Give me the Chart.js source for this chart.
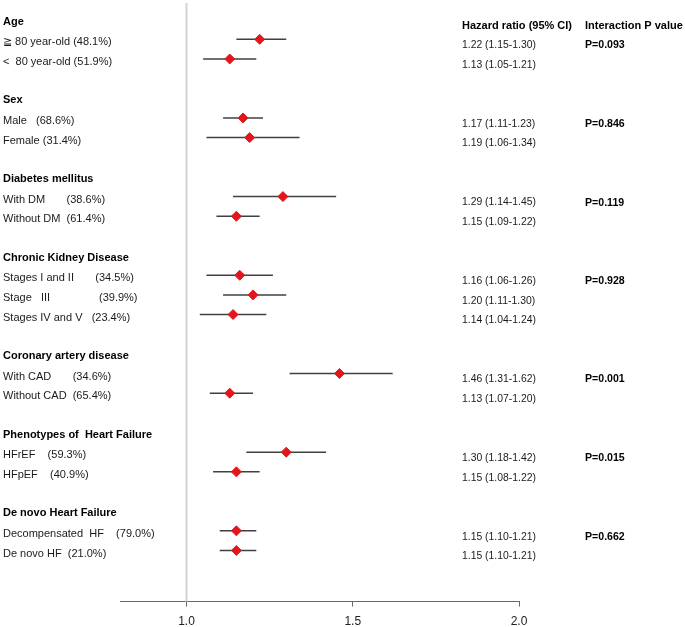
<!DOCTYPE html>
<html>
<head>
<meta charset="utf-8">
<script src="https://cdn.jsdelivr.net/npm/chart.js@4.4.1/dist/chart.umd.min.js"></script>
<style>
  html, body { margin: 0; padding: 0; background: #fff; }
  #forest { display: block; }
</style>
</head>
<body>
<canvas id="forest" width="685" height="627"></canvas>
<script>
const groupTitles = ['Age', 'Sex', 'Diabetes mellitus', 'Chronic Kidney Disease',
    'Coronary artery disease', 'Phenotypes of  Heart Failure', 'De novo Heart Failure'];
const groupSizes = [2, 2, 2, 3, 2, 2, 2];
const interactionP = ['P=0.093', 'P=0.846', 'P=0.119', 'P=0.928', 'P=0.001', 'P=0.015', 'P=0.662'];

const subgroupLabels = [
    '\u2267 80 year-old (48.1%)', '<  80 year-old (51.9%)',
    'Male   (68.6%)', 'Female (31.4%)',
    'With DM       (38.6%)', 'Without DM  (61.4%)',
    'Stages I and II       (34.5%)', 'Stage   III                (39.9%)', 'Stages IV and V   (23.4%)',
    'With CAD       (34.6%)', 'Without CAD  (65.4%)',
    'HFrEF    (59.3%)', 'HFpEF    (40.9%)',
    'Decompensated  HF    (79.0%)', 'De novo HF  (21.0%)'
];
const hazardRatio = [1.22, 1.13, 1.17, 1.19, 1.29, 1.15, 1.16, 1.20, 1.14, 1.46, 1.13, 1.30, 1.15, 1.15, 1.15];
const ciLower     = [1.15, 1.05, 1.11, 1.06, 1.14, 1.09, 1.06, 1.11, 1.04, 1.31, 1.07, 1.18, 1.08, 1.10, 1.10];
const ciUpper     = [1.30, 1.21, 1.23, 1.34, 1.45, 1.22, 1.26, 1.30, 1.24, 1.62, 1.20, 1.42, 1.22, 1.21, 1.21];
const xTicks = [1.0, 1.5, 2.0];

const FONT = '"Liberation Sans", Arial, sans-serif';

// row index of every title / subgroup: title, its rows, then one blank line
const titleRows = [];
const itemRows = [];
let row = 0;
groupSizes.forEach((n) => {
    titleRows.push(row);
    row++;
    for (let i = 0; i < n; i++) {
        itemRows.push(row);
        row++;
    }
    row++;
});

const points = hazardRatio.map((v, i) => ({ x: v, y: itemRows[i] }));

const forestPlugin = {
    id: 'forest',
    beforeDatasetsDraw(chart) {
        const { ctx, chartArea, scales: { x, y } } = chart;
        ctx.save();
        // reference line at HR = 1
        const x1 = x.getPixelForValue(1.0);
        ctx.strokeStyle = '#d2d2d2';
        ctx.lineWidth = 2;
        ctx.beginPath();
        ctx.moveTo(x1, chartArea.top + 3);
        ctx.lineTo(x1, chartArea.bottom);
        ctx.stroke();
        // confidence intervals
        ctx.strokeStyle = '#404040';
        ctx.lineWidth = 1.5;
        hazardRatio.forEach((v, i) => {
            const py = y.getPixelForValue(itemRows[i]);
            ctx.beginPath();
            ctx.moveTo(x.getPixelForValue(ciLower[i]), py);
            ctx.lineTo(x.getPixelForValue(ciUpper[i]), py);
            ctx.stroke();
        });
        ctx.restore();
    },
    afterDatasetsDraw(chart) {
        const { ctx, scales: { y } } = chart;
        ctx.save();
        ctx.textBaseline = 'middle';
        ctx.textAlign = 'left';
        // left column
        ctx.fillStyle = '#000';
        ctx.font = 'bold 11px ' + FONT;
        groupTitles.forEach((t, g) => ctx.fillText(t, 3, y.getPixelForValue(titleRows[g]) + 2));
        ctx.fillStyle = '#1a1a1a';
        ctx.font = '11px ' + FONT;
        subgroupLabels.forEach((t, i) => ctx.fillText(t, 3, y.getPixelForValue(itemRows[i]) + 3));
        // headers
        ctx.fillStyle = '#000';
        ctx.font = 'bold 11px ' + FONT;
        ctx.fillText('Hazard ratio (95% CI)', 462, y.getPixelForValue(0) + 6);
        ctx.fillText('Interaction P value', 585, y.getPixelForValue(0) + 6);
        // hazard ratio column
        ctx.fillStyle = '#1a1a1a';
        ctx.font = '10.4px ' + FONT;
        hazardRatio.forEach((v, i) => {
            const txt = v.toFixed(2) + ' (' + ciLower[i].toFixed(2) + '-' + ciUpper[i].toFixed(2) + ')';
            ctx.fillText(txt, 462, y.getPixelForValue(itemRows[i]) + 6);
        });
        // interaction p values, on the first row of each group
        ctx.fillStyle = '#000';
        ctx.font = 'bold 10.6px ' + FONT;
        interactionP.forEach((p, g) => {
            ctx.fillText(p, 585, y.getPixelForValue(titleRows[g] + 1) + 6);
        });
        ctx.restore();
    }
};

const chart = new Chart(document.getElementById('forest'), {
    type: 'scatter',
    data: {
        datasets: [{
            data: points,
            pointStyle: 'rectRot',
            pointRadius: 5,
            pointBackgroundColor: '#e3161c',
            pointBorderColor: '#e3161c',
            pointBorderWidth: 1
        }]
    },
    options: {
        responsive: false,
        devicePixelRatio: 1,
        animation: false,
        layout: { autoPadding: false, padding: { left: 120, right: 166, top: 0, bottom: -10 } },
        plugins: { legend: { display: false }, tooltip: { enabled: false } },
        scales: {
            x: {
                type: 'linear',
                min: 0.8,
                max: 2.0,
                afterBuildTicks: (s) => { s.ticks = xTicks.map(v => ({ value: v })); },
                grid: { drawOnChartArea: false, drawTicks: true, tickLength: 5, color: '#6a6a6a' },
                border: { display: true, color: '#6a6a6a', width: 1 },
                ticks: {
                    padding: 8,
                    color: '#222',
                    font: { family: FONT, size: 12 },
                    callback: (v) => Number(v).toFixed(1)
                }
            },
            y: {
                type: 'linear',
                reverse: true,
                min: -1,
                max: 29.6,
                display: false
            }
        }
    },
    plugins: [forestPlugin]
});
</script>
</body>
</html>
